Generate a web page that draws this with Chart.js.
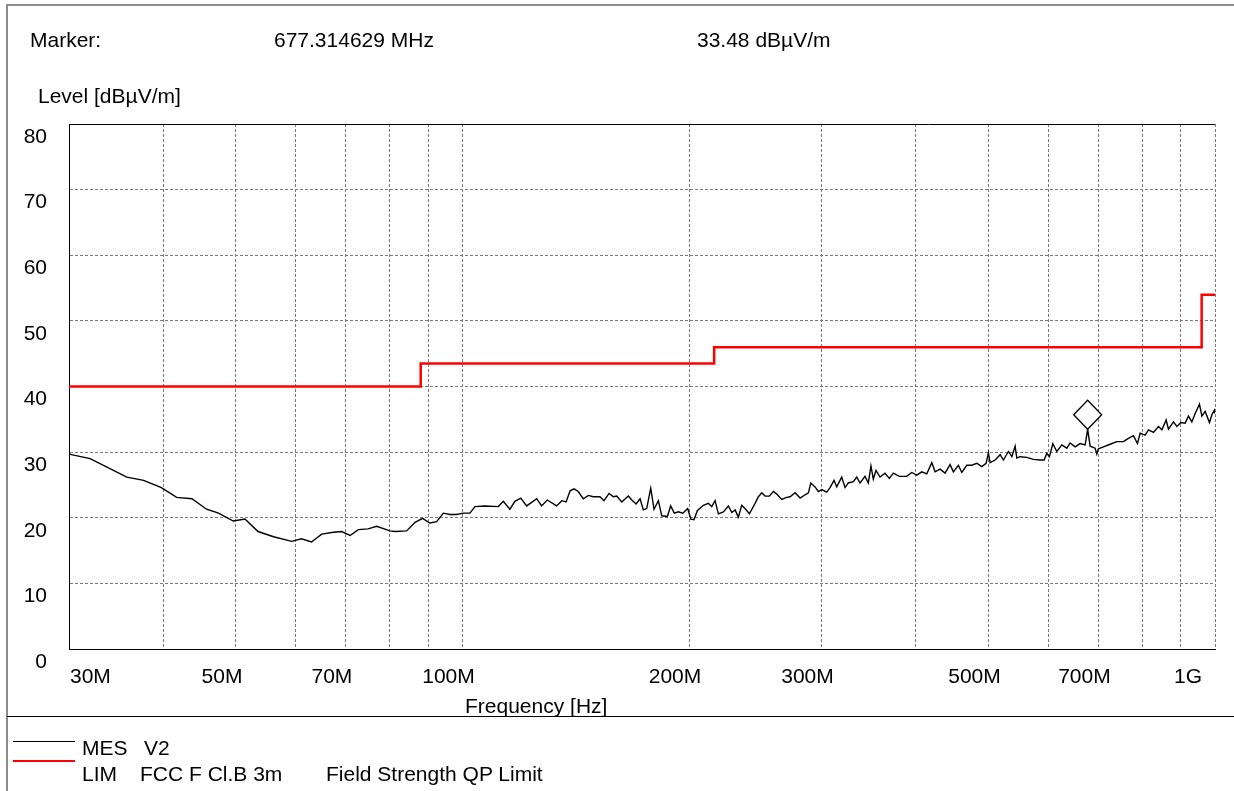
<!DOCTYPE html>
<html>
<head>
<meta charset="utf-8">
<title>Field Strength Scan</title>
<script src="https://cdn.jsdelivr.net/npm/chart.js@4.4.1/dist/chart.umd.min.js"></script>
<style>
  body { margin: 0; background: #fff; }
  #page { position: relative; width: 1234px; height: 791px; overflow: hidden; font-family: "Liberation Sans", Arial, sans-serif; }
  #frame { position: absolute; left: 6px; top: 4px; width: 1240px; height: 800px; border-left: 2px solid #8c8c8c; border-top: 2px solid #8c8c8c; }
  #sep { position: absolute; left: 7px; top: 716px; width: 1240px; height: 0; border-top: 1px solid #000; }
  #chart { position: absolute; left: 0; top: 0; }
  .txt { position: absolute; font-size: 21px; line-height: 22px; color: #000; white-space: pre; }
  .sample { position: absolute; left: 13px; width: 62px; height: 0; }
</style>
</head>
<body>
<div id="page">
  <div id="frame"></div>
  <canvas id="chart" width="1234" height="791"></canvas>
  <div id="sep"></div>

  <div class="txt" style="left:30px; top:29px;">Marker:</div>
  <div class="txt" id="mkFreq" style="left:274px; top:29px;"></div>
  <div class="txt" id="mkLevel" style="left:697px; top:29px;"></div>
  <div class="txt" style="left:38px; top:85px;">Level [dBµV/m]</div>
  <div class="txt" style="left:465px; top:695px;">Frequency [Hz]</div>

  <div class="sample" style="top:741px; border-top:1px solid #000;"></div>
  <div class="txt" style="left:82px; top:737px;">MES</div>
  <div class="txt" style="left:144px; top:737px;">V2</div>
  <div class="sample" style="top:760px; border-top:2px solid #ff0000;"></div>
  <div class="txt" style="left:82px; top:763px;">LIM</div>
  <div class="txt" style="left:140px; top:763px;">FCC F Cl.B 3m</div>
  <div class="txt" style="left:326px; top:763px;">Field Strength QP Limit</div>
</div>

<script>
// Frequency grid (MHz) and the labelled subset
const freqTicks = [30, 40, 50, 60, 70, 80, 90, 100, 200, 300, 400, 500, 600, 700, 800, 900, 1000];
const freqLabelValues = [30, 50, 70, 100, 200, 300, 500, 700, 1000];
const freqLabelText = ['30M', '50M', '70M', '100M', '200M', '300M', '500M', '700M', '1G'];

// Limit line: FCC part 15 class B, 3 m, quasi-peak (dBµV/m)
const limFreq = [30, 88, 216, 960, 1000];
const limLevel = [40, 43.5, 46, 54, 54];

// Marker
const markerFreq = 677.314629;
const markerLevel = 33.48;

// Measured trace MES V2
const mesFreq = [
  30.0, 32.0, 35.8, 37.7, 39.8, 41.7, 43.7, 45.7, 47.4, 49.6,
  51.4, 53.5, 56.1, 59.3, 61.1, 63.0, 65.0, 67.4, 69.1, 70.9,
  72.7, 74.9, 76.9, 80.1, 81.4, 84.3, 86.5, 88.5, 90.5, 92.4,
  94.3, 96.2, 98.2, 100.3, 102.3, 103.9, 107.1, 111.6, 113.3, 115.6,
  117.4, 119.5, 121.7, 125.5, 127.4, 129.6, 133.4, 135.5, 137.3, 139.0,
  140.7, 142.5, 144.7, 147.0, 149.2, 152.3, 154.2, 156.6, 158.7, 160.3,
  162.8, 166.1, 167.9, 170.1, 172.2, 173.9, 175.7, 177.9, 179.7, 182.1,
  184.0, 187.2, 189.1, 191.2, 193.6, 196.2, 199.2, 201.1, 203.1, 205.2,
  209.0, 212.2, 214.4, 216.6, 218.8, 222.2, 225.6, 228.0, 230.3, 232.6,
  235.0, 237.4, 240.6, 244.8, 247.3, 249.9, 252.4, 255.7, 258.9, 261.6,
  265.6, 269.7, 272.5, 276.7, 281.0, 285.3, 288.2, 290.3, 294.1, 297.1,
  300.2, 304.8, 307.9, 311.7, 314.3, 319.1, 322.4, 325.6, 330.7, 334.1,
  337.5, 342.7, 346.2, 349.0, 351.5, 354.4, 358.8, 364.3, 369.2, 373.7,
  380.6, 389.3, 395.4, 401.5, 407.7, 414.0, 420.4, 424.6, 431.2, 437.8,
  444.6, 449.1, 456.0, 460.8, 467.9, 475.1, 482.5, 489.9, 496.4, 499.9,
  502.5, 510.3, 518.2, 523.4, 531.5, 537.1, 542.5, 545.3, 550.8, 562.3,
  573.7, 585.6, 592.8, 597.7, 602.5, 608.8, 616.3, 625.8, 635.5, 641.9,
  651.8, 661.9, 672.1, 677.314629, 682.5, 693.0, 696.6, 700.0, 710.8, 725.5,
  740.6, 755.7, 767.4, 779.2, 788.8, 795.3, 807.6, 815.8, 828.4, 841.2,
  850.0, 861.2, 867.3, 880.7, 889.9, 900.8, 912.7, 922.0, 931.6, 941.1,
  953.6, 960.6, 970.4, 983.2, 990.5, 998.4, 1000.0
];
const mesLevel = [
  29.7, 29.0, 26.2, 25.7, 24.6, 23.1, 22.9, 21.3, 20.7, 19.5,
  19.8, 17.9, 17.1, 16.4, 16.8, 16.3, 17.5, 17.8, 17.9, 17.3,
  18.2, 18.3, 18.7, 18.0, 17.9, 18.0, 19.3, 19.9, 19.2, 19.4,
  20.7, 20.5, 20.5, 20.7, 20.7, 21.7, 21.8, 21.7, 22.5, 21.3,
  22.5, 23.0, 21.8, 22.9, 21.8, 22.7, 21.8, 22.6, 22.4, 24.1,
  24.4, 24.0, 22.9, 23.4, 23.2, 23.2, 22.6, 23.7, 23.2, 23.3,
  22.4, 23.3, 22.7, 22.1, 22.9, 21.2, 21.4, 24.5, 21.3, 22.6,
  20.3, 20.2, 21.8, 20.7, 20.9, 20.7, 21.4, 19.8, 19.7, 21.1,
  21.9, 22.2, 21.7, 22.6, 20.6, 20.9, 21.8, 20.8, 21.2, 20.1,
  21.9, 21.4, 20.6, 22.2, 23.2, 23.8, 23.3, 23.3, 24.0, 23.6,
  22.8, 23.1, 23.2, 23.8, 23.0, 23.5, 23.8, 25.3, 24.7, 24.0,
  24.3, 23.9, 24.6, 25.7, 24.7, 26.2, 24.6, 25.3, 25.5, 26.2,
  25.3, 26.3, 25.3, 27.9, 25.9, 27.2, 26.2, 26.8, 26.0, 26.8,
  26.3, 26.3, 26.9, 26.5, 27.0, 26.7, 28.4, 27.0, 27.4, 26.8,
  28.1, 27.0, 28.0, 26.9, 28.0, 28.0, 28.3, 27.8, 28.3, 29.9,
  28.4, 28.8, 29.6, 28.8, 30.1, 29.3, 30.9, 29.1, 29.3, 29.2,
  28.9, 28.8, 28.8, 29.8, 29.3, 31.3, 30.1, 31.1, 30.6, 31.4,
  30.8, 31.3, 31.1, 33.48, 30.9, 30.6, 29.7, 30.5, 30.8, 31.2,
  31.6, 31.6, 32.1, 32.5, 31.3, 32.9, 32.6, 33.4, 33.0, 33.9,
  33.4, 34.9, 33.5, 34.6, 33.9, 34.5, 34.4, 35.5, 34.6, 35.9,
  37.3, 35.5, 36.2, 34.5, 35.7, 36.4, 35.9
];

const FONT = '"Liberation Sans", Arial, sans-serif';

document.getElementById('mkFreq').textContent = markerFreq.toFixed(6) + ' MHz';
document.getElementById('mkLevel').textContent = markerLevel.toFixed(2) + ' dBµV/m';

// plot frame: solid black on top, left and bottom
const framePlugin = {
  id: 'frame',
  beforeDatasetsDraw(chart) {
    const a = chart.chartArea;
    const c = chart.ctx;
    c.save();
    c.strokeStyle = '#000';
    c.lineWidth = 1;
    c.beginPath();
    c.moveTo(a.left + 0.5, a.bottom + 0.5);
    c.lineTo(a.left + 0.5, a.top + 0.5);
    c.lineTo(a.right, a.top + 0.5);
    c.moveTo(a.left, a.bottom + 0.5);
    c.lineTo(a.right, a.bottom + 0.5);
    c.stroke();
    c.restore();
  }
};

// frequency labels sit slightly left of their grid lines
const freqLabelPlugin = {
  id: 'freqLabels',
  afterDraw(chart) {
    const xs = chart.scales.x;
    const c = chart.ctx;
    c.save();
    c.fillStyle = '#000';
    c.font = '21px ' + FONT;
    c.textBaseline = 'middle';
    freqLabelValues.forEach((v, i) => {
      const px = xs.getPixelForValue(v);
      if (i === 0) {
        c.textAlign = 'left';
        c.fillText(freqLabelText[i], px + 1, 677);
      } else if (i === freqLabelValues.length - 1) {
        c.textAlign = 'right';
        c.fillText(freqLabelText[i], px - 13, 677);
      } else {
        c.textAlign = 'center';
        c.fillText(freqLabelText[i], px - 14, 677);
      }
    });
    c.restore();
  }
};

// diamond marker resting on the peak
const markerPlugin = {
  id: 'marker',
  afterDatasetsDraw(chart) {
    const x = chart.scales.x.getPixelForValue(markerFreq);
    const y = chart.scales.y.getPixelForValue(markerLevel);
    const c = chart.ctx;
    c.save();
    c.beginPath();
    c.moveTo(x, y);
    c.lineTo(x + 14, y - 14.5);
    c.lineTo(x, y - 29);
    c.lineTo(x - 14, y - 14.5);
    c.closePath();
    c.fillStyle = '#fff';
    c.fill();
    c.strokeStyle = '#000';
    c.lineWidth = 1.3;
    c.stroke();
    c.restore();
  }
};

new Chart(document.getElementById('chart'), {
  type: 'line',
  data: {
    datasets: [
      {
        label: 'MES V2',
        data: mesFreq.map((f, i) => ({ x: f, y: mesLevel[i] })),
        borderColor: '#000',
        borderWidth: 1.4,
        pointRadius: 0,
        tension: 0
      },
      {
        label: 'LIM FCC F Cl.B 3m',
        data: limFreq.map((f, i) => ({ x: f, y: limLevel[i] })),
        borderColor: '#ff0000',
        borderWidth: 2.5,
        pointRadius: 0,
        stepped: true
      }
    ]
  },
  options: {
    responsive: false,
    animation: false,
    events: [],
    layout: { padding: { top: 124, right: 19, left: 0, bottom: 0 } },
    plugins: { legend: { display: false }, tooltip: { enabled: false } },
    scales: {
      x: {
        type: 'logarithmic',
        min: 30,
        max: 1000,
        afterBuildTicks: s => { s.ticks = freqTicks.map(v => ({ value: v })); },
        afterFit: s => { s.height = 142; },
        ticks: { display: false },
        grid: { color: '#7a7a7a', lineWidth: 1, drawTicks: false },
        border: { color: '#000', width: 1, dash: [3, 2] }
      },
      y: {
        min: 0,
        max: 80,
        afterFit: s => { s.width = 69; },
        ticks: { stepSize: 10, padding: 22, labelOffset: 13, color: '#000', font: { family: FONT, size: 21 } },
        grid: { color: '#7a7a7a', lineWidth: 1, drawTicks: false },
        border: { color: '#000', width: 1, dash: [3, 2] }
      }
    }
  },
  plugins: [framePlugin, freqLabelPlugin, markerPlugin]
});
</script>
</body>
</html>
